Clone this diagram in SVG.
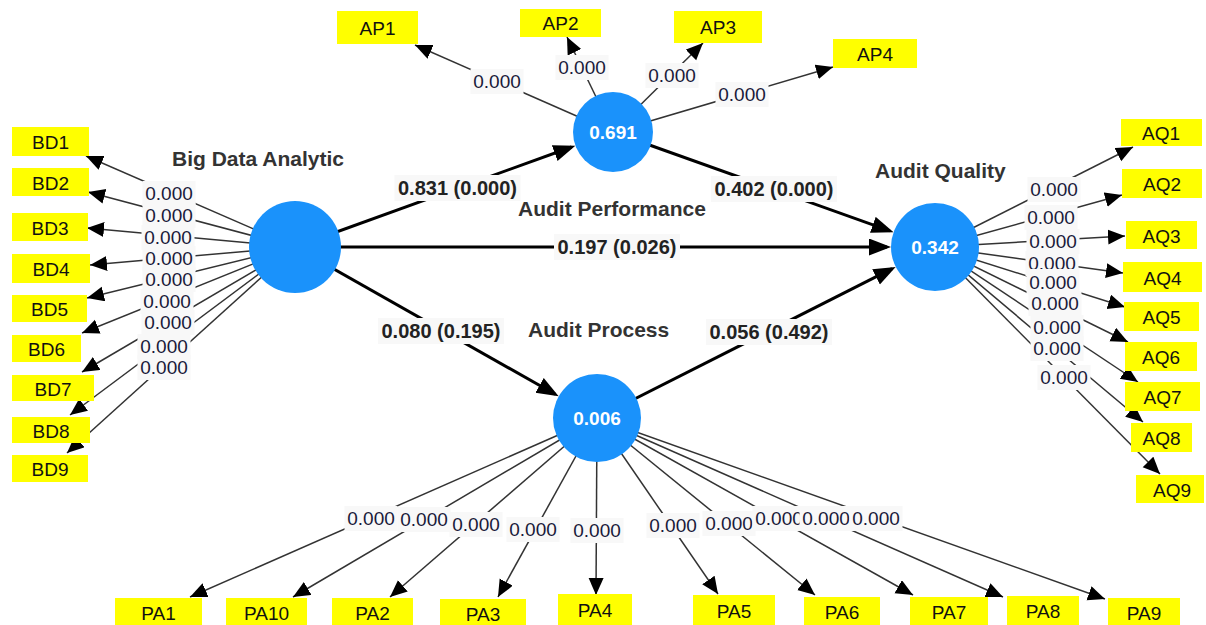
<svg xmlns="http://www.w3.org/2000/svg" width="1206" height="625" viewBox="0 0 1206 625">
<defs>
<marker id="ah" markerUnits="userSpaceOnUse" markerWidth="18" markerHeight="16" refX="17" refY="7.5" orient="auto"><path d="M0,0 L17,7.5 L0,15 z" fill="#000"/></marker>
<marker id="ah2" markerUnits="userSpaceOnUse" markerWidth="24" markerHeight="18" refX="18" refY="8.5" orient="auto"><path d="M0,0 L22,8.5 L0,17 z" fill="#000"/></marker>
</defs>
<style>
text{font-family:"Liberation Sans",Arial,sans-serif}
.box{fill:#ffff00}
.bt{font-size:19px;fill:#111;text-anchor:middle}
.ld{stroke:#333;stroke-width:1.5;fill:none;marker-end:url(#ah)}
.st{stroke:#000;stroke-width:3;fill:none;marker-end:url(#ah2)}
.lb rect,.pl rect{fill:#f8f8f8}
.lb text{font-size:19px;fill:#1a1a3a;text-anchor:middle}
.pl text{font-size:20px;font-weight:bold;fill:#222;text-anchor:middle}
.lv{fill:#1a92fb}
.lvt{font-size:19px;font-weight:bold;fill:#fff;text-anchor:middle}
.nl{font-size:21px;font-weight:bold;fill:#333}
</style>
<rect width="1206" height="625" fill="#fff"/>
<g id="connectors">
<!-- BD loadings -->
<path class="ld" d="M295,247 L86,156"/>
<path class="ld" d="M295,247 L88,192"/>
<path class="ld" d="M295,247 L87,228"/>
<path class="ld" d="M295,247 L90,265"/>
<path class="ld" d="M295,247 L87,298"/>
<path class="ld" d="M295,247 L82,333"/>
<path class="ld" d="M295,247 L82,372"/>
<path class="ld" d="M295,247 L70,415"/>
<path class="ld" d="M295,247 L67,453"/>
<!-- AP loadings -->
<path class="ld" d="M613,132 L415,45"/>
<path class="ld" d="M613,132 L567,37"/>
<path class="ld" d="M613,132 L703,43"/>
<path class="ld" d="M613,132 L833,67"/>
<!-- AQ loadings -->
<path class="ld" d="M935,247 L1133,147"/>
<path class="ld" d="M935,247 L1122,195"/>
<path class="ld" d="M935,247 L1125,236"/>
<path class="ld" d="M935,247 L1123,273"/>
<path class="ld" d="M935,247 L1125,307"/>
<path class="ld" d="M935,247 L1128,342"/>
<path class="ld" d="M935,247 L1138,382"/>
<path class="ld" d="M935,247 L1143,422"/>
<path class="ld" d="M935,247 L1160,474"/>
<!-- PA loadings -->
<path class="ld" d="M597,418 L190,597"/>
<path class="ld" d="M597,418 L293,597"/>
<path class="ld" d="M597,418 L390,597"/>
<path class="ld" d="M597,418 L498,597"/>
<path class="ld" d="M597,418 L596,595"/>
<path class="ld" d="M597,418 L718,594"/>
<path class="ld" d="M597,418 L815,595"/>
<path class="ld" d="M597,418 L913,595"/>
<path class="ld" d="M597,418 L1003,597"/>
<path class="ld" d="M597,418 L1105,599"/>
<!-- structural paths -->
<path class="st" d="M295,247 L571.6,147"/>
<path class="st" d="M613,132 L889.8,230.9"/>
<path class="st" d="M295,247 L887,247"/>
<path class="st" d="M295,247 L555.2,394.3"/>
<path class="st" d="M597,418 L892.1,268.7"/>
<!-- loading labels BD -->
<g class="lb"><rect x="142.5" y="181" width="53" height="25"/><text x="169" y="200">0.000</text></g>
<g class="lb"><rect x="142.5" y="203" width="53" height="25"/><text x="169" y="222">0.000</text></g>
<g class="lb"><rect x="141.5" y="225" width="53" height="25"/><text x="168" y="244">0.000</text></g>
<g class="lb"><rect x="142.5" y="246" width="53" height="25"/><text x="169" y="265">0.000</text></g>
<g class="lb"><rect x="142.5" y="267" width="53" height="25"/><text x="169" y="286">0.000</text></g>
<g class="lb"><rect x="140.5" y="289" width="53" height="25"/><text x="167" y="308">0.000</text></g>
<g class="lb"><rect x="141.5" y="310" width="53" height="25"/><text x="168" y="329">0.000</text></g>
<g class="lb"><rect x="137.5" y="334" width="53" height="25"/><text x="164" y="353">0.000</text></g>
<g class="lb"><rect x="137.5" y="355" width="53" height="25"/><text x="164" y="374">0.000</text></g>
<!-- loading labels AP -->
<g class="lb"><rect x="470.5" y="69" width="53" height="25"/><text x="497" y="88">0.000</text></g>
<g class="lb"><rect x="555.5" y="55" width="53" height="25"/><text x="582" y="74">0.000</text></g>
<g class="lb"><rect x="645.5" y="63" width="53" height="25"/><text x="672" y="82">0.000</text></g>
<g class="lb"><rect x="715.5" y="82" width="53" height="25"/><text x="742" y="101">0.000</text></g>
<!-- loading labels AQ -->
<g class="lb"><rect x="1027.5" y="177" width="53" height="25"/><text x="1054" y="196">0.000</text></g>
<g class="lb"><rect x="1024.5" y="205" width="53" height="25"/><text x="1051" y="224">0.000</text></g>
<g class="lb"><rect x="1026.5" y="229" width="53" height="25"/><text x="1053" y="248">0.000</text></g>
<g class="lb"><rect x="1025.5" y="251" width="53" height="25"/><text x="1052" y="270">0.000</text></g>
<g class="lb"><rect x="1026.5" y="269" width="53" height="25"/><text x="1053" y="289">0.000</text></g>
<g class="lb"><rect x="1028.5" y="291" width="53" height="25"/><text x="1055" y="310">0.000</text></g>
<g class="lb"><rect x="1030.5" y="315" width="53" height="25"/><text x="1057" y="334">0.000</text></g>
<g class="lb"><rect x="1030.5" y="336" width="53" height="25"/><text x="1057" y="355">0.000</text></g>
<g class="lb"><rect x="1037.5" y="365" width="53" height="25"/><text x="1064" y="384">0.000</text></g>
<!-- loading labels PA -->
<g class="lb"><rect x="344.5" y="506" width="53" height="25"/><text x="371" y="525">0.000</text></g>
<g class="lb"><rect x="397.5" y="507" width="53" height="25"/><text x="424" y="526">0.000</text></g>
<g class="lb"><rect x="449.5" y="512" width="53" height="25"/><text x="476" y="531">0.000</text></g>
<g class="lb"><rect x="506.5" y="517" width="53" height="25"/><text x="533" y="536">0.000</text></g>
<g class="lb"><rect x="570.5" y="518" width="53" height="25"/><text x="597" y="537">0.000</text></g>
<g class="lb"><rect x="646.5" y="513" width="53" height="25"/><text x="673" y="532">0.000</text></g>
<g class="lb"><rect x="702.5" y="511" width="53" height="25"/><text x="729" y="530">0.000</text></g>
<g class="lb"><rect x="752.5" y="506" width="53" height="25"/><text x="779" y="525">0.000</text></g>
<g class="lb"><rect x="799.5" y="506" width="53" height="25"/><text x="826" y="525">0.000</text></g>
<g class="lb"><rect x="849.5" y="506" width="53" height="25"/><text x="876" y="525">0.000</text></g>
<!-- path coefficient labels -->
<g class="pl"><rect x="394.5" y="175" width="126" height="26"/><text x="457.5" y="195">0.831 (0.000)</text></g>
<g class="pl"><rect x="711" y="176" width="126" height="26"/><text x="774" y="196">0.402 (0.000)</text></g>
<g class="pl"><rect x="554" y="234" width="126" height="26"/><text x="617" y="254">0.197 (0.026)</text></g>
<g class="pl"><rect x="378" y="318" width="126" height="26"/><text x="441" y="338">0.080 (0.195)</text></g>
<g class="pl"><rect x="706" y="319" width="126" height="26"/><text x="769" y="339">0.056 (0.492)</text></g>
</g>
<!-- latent variables -->
<g id="big-data-analytic"><circle class="lv" cx="295" cy="247" r="46"/><text class="nl" x="172" y="166">Big Data Analytic</text></g>
<g id="audit-performance"><circle class="lv" cx="613" cy="132" r="40"/><text class="lvt" x="613" y="139">0.691</text><text class="nl" x="518" y="216">Audit Performance</text></g>
<g id="audit-quality"><circle class="lv" cx="935" cy="247" r="44"/><text class="lvt" x="935" y="254">0.342</text><text class="nl" x="875" y="178">Audit Quality</text></g>
<g id="audit-process"><circle class="lv" cx="597" cy="418" r="44"/><text class="lvt" x="597" y="425">0.006</text><text class="nl" x="528" y="337">Audit Process</text></g>
<!-- indicators BD -->
<g id="BD1"><rect class="box" x="12" y="127" width="77" height="29"/><text class="bt" x="50.5" y="149">BD1</text></g>
<g id="BD2"><rect class="box" x="12" y="168" width="77" height="28"/><text class="bt" x="50.5" y="189.5">BD2</text></g>
<g id="BD3"><rect class="box" x="12" y="213" width="76" height="28"/><text class="bt" x="50" y="234.5">BD3</text></g>
<g id="BD4"><rect class="box" x="12" y="254" width="78" height="29"/><text class="bt" x="51" y="276">BD4</text></g>
<g id="BD5"><rect class="box" x="12" y="295" width="75" height="27"/><text class="bt" x="49.5" y="316">BD5</text></g>
<g id="BD6"><rect class="box" x="12" y="335" width="69" height="27"/><text class="bt" x="46.5" y="356">BD6</text></g>
<g id="BD7"><rect class="box" x="12" y="375" width="82" height="26"/><text class="bt" x="53" y="395.5">BD7</text></g>
<g id="BD8"><rect class="box" x="12" y="417" width="78" height="26"/><text class="bt" x="51" y="437.5">BD8</text></g>
<g id="BD9"><rect class="box" x="12" y="455" width="76" height="27"/><text class="bt" x="50" y="476">BD9</text></g>
<!-- indicators AP -->
<g id="AP1"><rect class="box" x="337" y="11" width="81" height="33"/><text class="bt" x="377.5" y="35">AP1</text></g>
<g id="AP2"><rect class="box" x="520" y="9" width="81" height="28"/><text class="bt" x="560.5" y="30">AP2</text></g>
<g id="AP3"><rect class="box" x="674" y="11" width="88" height="32"/><text class="bt" x="718" y="34">AP3</text></g>
<g id="AP4"><rect class="box" x="833" y="39" width="84" height="29"/><text class="bt" x="875" y="61">AP4</text></g>
<!-- indicators AQ -->
<g id="AQ1"><rect class="box" x="1121" y="119" width="81" height="27"/><text class="bt" x="1161" y="140">AQ1</text></g>
<g id="AQ2"><rect class="box" x="1122" y="169" width="80" height="29"/><text class="bt" x="1162" y="191">AQ2</text></g>
<g id="AQ3"><rect class="box" x="1126" y="221" width="71" height="28"/><text class="bt" x="1161.5" y="242.5">AQ3</text></g>
<g id="AQ4"><rect class="box" x="1123" y="262" width="79" height="30"/><text class="bt" x="1162.5" y="284.5">AQ4</text></g>
<g id="AQ5"><rect class="box" x="1124" y="302" width="75" height="29"/><text class="bt" x="1161.5" y="324">AQ5</text></g>
<g id="AQ6"><rect class="box" x="1125" y="342" width="72" height="29"/><text class="bt" x="1161" y="364">AQ6</text></g>
<g id="AQ7"><rect class="box" x="1125" y="382" width="75" height="29"/><text class="bt" x="1162.5" y="404">AQ7</text></g>
<g id="AQ8"><rect class="box" x="1131" y="423" width="61" height="29"/><text class="bt" x="1161.5" y="445">AQ8</text></g>
<g id="AQ9"><rect class="box" x="1136" y="475" width="68" height="28"/><text class="bt" x="1172" y="496.5">AQ9</text></g>
<!-- indicators PA -->
<g id="PA1"><rect class="box" x="115" y="598" width="87" height="30"/><text class="bt" x="158.5" y="620">PA1</text></g>
<g id="PA10"><rect class="box" x="226" y="598" width="81" height="30"/><text class="bt" x="266.5" y="620">PA10</text></g>
<g id="PA2"><rect class="box" x="332" y="598" width="81" height="30"/><text class="bt" x="372.5" y="620">PA2</text></g>
<g id="PA3"><rect class="box" x="440" y="599" width="86" height="30"/><text class="bt" x="483" y="621">PA3</text></g>
<g id="PA4"><rect class="box" x="558" y="594" width="74" height="32"/><text class="bt" x="595" y="617">PA4</text></g>
<g id="PA5"><rect class="box" x="693" y="595" width="82" height="32"/><text class="bt" x="734" y="618">PA5</text></g>
<g id="PA6"><rect class="box" x="804" y="597" width="76" height="30"/><text class="bt" x="842" y="619">PA6</text></g>
<g id="PA7"><rect class="box" x="910" y="597" width="78" height="30"/><text class="bt" x="949" y="619">PA7</text></g>
<g id="PA8"><rect class="box" x="1007" y="596" width="72" height="30"/><text class="bt" x="1043" y="618">PA8</text></g>
<g id="PA9"><rect class="box" x="1108" y="598" width="72" height="30"/><text class="bt" x="1144" y="620">PA9</text></g>
</svg>
